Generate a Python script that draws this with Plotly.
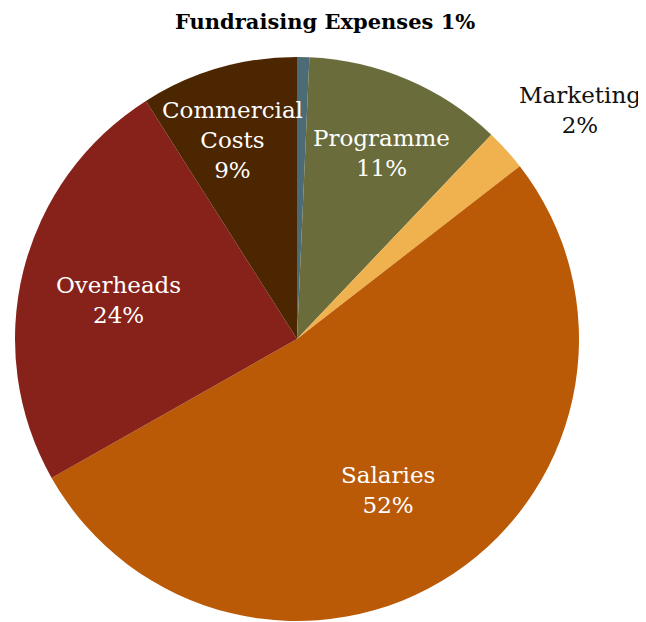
import plotly.graph_objects as go

labels = ["Fundraising Expenses", "Programme", "Marketing", "Salaries", "Overheads", "Commercial Costs"]
values = [0.7, 11.4, 2.4, 52.3, 24.2, 9.0]
colors = ["#4b6b76", "#6a6d3b", "#efb24f", "#ba5a07", "#87221b", "#4b2600"]

# The page body has an 8px margin; work in screen pixels and subtract it.
OFF = 8
W, H = 646 - OFF, 622 - OFF
CX, CY, R = 297 - OFF, 339 - OFF, 282

fig = go.Figure(go.Pie(
    labels=labels,
    values=values,
    sort=False,
    direction="clockwise",
    rotation=0,
    marker=dict(colors=colors, line=dict(width=0)),
    textinfo="none",
    showlegend=False,
    domain=dict(x=[(CX - R) / W, (CX + R) / W], y=[1 - (CY + R) / H, 1 - (CY - R) / H]),
    hoverinfo="label+percent",
))

total = sum(values)
pcts = [round(v / total * 100) for v in values]

# label placement (screen pixel positions) and styles
place = {
    "Fundraising Expenses": dict(x=325, y=21, sep=" ", color="black", bold=True, size=21),
    "Programme": dict(x=382, y=153, sep="<br>", color="white", bold=False, size=23),
    "Marketing": dict(x=580, y=110, sep="<br>", color="#111111", bold=False, size=23),
    "Salaries": dict(x=388, y=490, sep="<br>", color="white", bold=False, size=23),
    "Overheads": dict(x=118, y=300, sep="<br>", color="white", bold=False, size=23),
    "Commercial Costs": dict(x=232, y=140, sep="<br>", color="white", bold=False, size=23),
}
annotations = []
for lab, p in zip(labels, pcts):
    s = place[lab]
    name = lab.replace(" ", "<br>") if lab == "Commercial Costs" else lab
    txt = f"{name}{s['sep']}{p}%"
    if s["bold"]:
        txt = f"<b>{txt}</b>"
    annotations.append(dict(
        x=(s["x"] - OFF) / W, y=1 - (s["y"] - OFF) / H, xref="paper", yref="paper",
        text=txt, showarrow=False, xanchor="center", yanchor="middle",
        align="center",
        font=dict(family="DejaVu Serif", size=s["size"], color=s["color"]),
    ))

fig.update_layout(
    width=W, height=H,
    margin=dict(l=0, r=0, t=0, b=0),
    paper_bgcolor="white",
    font=dict(family="DejaVu Serif"),
    annotations=annotations,
)
fig.write_html("out.html")
